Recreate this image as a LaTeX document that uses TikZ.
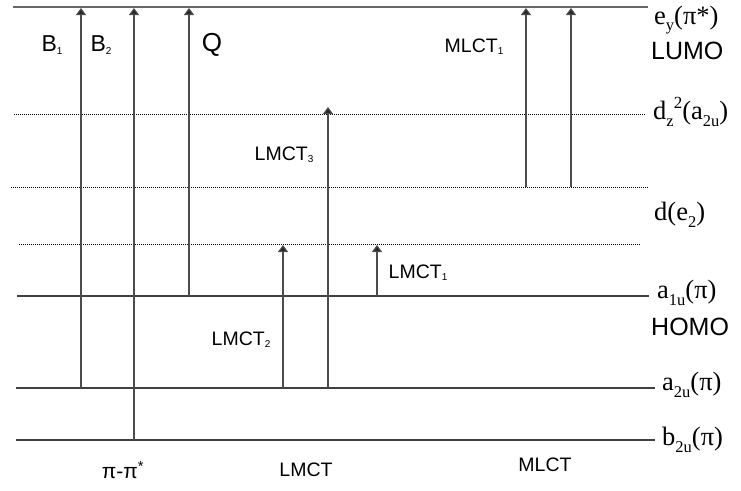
\documentclass[tikz,border=0pt]{standalone}
\usepackage{fontspec}
\setmainfont{Liberation Serif}
\newfontfamily\sans{Liberation Sans}
\usetikzlibrary{arrows.meta}
\newcommand\ssub[1]{\raisebox{-0.2ex}{\fontsize{10}{11}\selectfont #1}}
\newcommand\osub[1]{\raisebox{-0.55ex}{\fontsize{16.5}{17}\selectfont #1}}
\newcommand\osup[1]{\raisebox{0.9ex}{\fontsize{17}{18}\selectfont #1}}
\tikzset{
  solidlevel/.style={draw=black!75, line width=1.1pt},
  toplevel/.style={draw=black!60, line width=1.8pt},
  dotlevel/.style={draw=black, line width=0.8pt, dash pattern=on 1pt off 1pt},
  trans/.style={draw=black!70, line width=1.2pt, -{Triangle[length=7pt,width=10pt,fill=black!85]}},
  biglab/.style={font=\sans\fontsize{23}{26}\selectfont, inner sep=0pt},
  midlab/.style={font=\sans\fontsize{19.5}{22}\selectfont, inner sep=0pt},
  orblab/.style={font=\fontsize{26.5}{29}\selectfont, inner sep=0pt, anchor=west},
  homolab/.style={font=\sans\fontsize{25}{28}\selectfont, inner sep=0pt, anchor=west},
}
\begin{document}
\begin{tikzpicture}[x=1pt,y=-1pt]
\useasboundingbox (0,0) rectangle (741,490);
% level end points
\coordinate (eyL) at (13,7);   \coordinate (eyR) at (648,7);
\coordinate (dzL) at (14,114); \coordinate (dzR) at (645,114);
\coordinate (dmL) at (11,187); \coordinate (dmR) at (648,187);
\coordinate (deL) at (19,244); \coordinate (deR) at (641,244);
\coordinate (a1L) at (17,296); \coordinate (a1R) at (649,296);
\coordinate (a2L) at (16,388); \coordinate (a2R) at (655,388);
\coordinate (b2L) at (16,440); \coordinate (b2R) at (655,440);
% levels
\draw[toplevel] (eyL) -- (eyR);
\draw[dotlevel] (dzL) -- (dzR);
\draw[dotlevel] (dmL) -- (dmR);
\draw[dotlevel] (deL) -- (deR);
\draw[solidlevel] (a1L) -- (a1R);
\draw[solidlevel] (a2L) -- (a2R);
\draw[solidlevel] (b2L) -- (b2R);
% transition end points
\coordinate (B1s) at (81,388);  \coordinate (B1e) at (81,8);
\coordinate (B2s) at (134,440); \coordinate (B2e) at (134,8);
\coordinate (Qs) at (189,296);  \coordinate (Qe) at (189,8);
\coordinate (L2s) at (283,388); \coordinate (L2e) at (283,245);
\coordinate (L3s) at (328,388); \coordinate (L3e) at (328,107);
\coordinate (L1s) at (377,296); \coordinate (L1e) at (377,245);
\coordinate (M1s) at (526,187); \coordinate (M1e) at (526,8);
\coordinate (M2s) at (571,187); \coordinate (M2e) at (571,8);
% transitions
\draw[trans] (B1s) -- (B1e);
\draw[trans] (B2s) -- (B2e);
\draw[trans] (Qs) -- (Qe);
\draw[trans] (L2s) -- (L2e);
\draw[trans] (L3s) -- (L3e);
\draw[trans] (L1s) -- (L1e);
\draw[trans] (M1s) -- (M1e);
\draw[trans] (M2s) -- (M2e);
% transition labels
\node[biglab] (lB1) at (52,45) {B\ssub{1}};
\node[biglab] (lB2) at (101,45) {B\ssub{2}};
\node[biglab, font=\sans\fontsize{26}{28}\selectfont] (lQ) at (212,45) {Q};
\node[midlab] (lM1) at (474,47) {MLCT\ssub{1}};
\node[midlab] (lL3) at (284,155) {LMCT\ssub{3}};
\node[midlab] (lL1) at (418,273) {LMCT\ssub{1}};
\node[midlab] (lL2) at (241,340) {LMCT\ssub{2}};
% bottom labels
\node[midlab, font=\sans\fontsize{21}{24}\selectfont] (bpp) at (123,470) {π-π\textsuperscript{*}};
\node[midlab] (blm) at (306,470) {LMCT};
\node[midlab] (bml) at (545,465) {MLCT};
% orbital labels
\node[orblab] (oey) at (654,20) {e\osub{y}(π*)};
\node[homolab] (olumo) at (651,51) {LUMO};
\node[orblab] (odz) at (653,112) {d\osub{z}\osup{2}(a\osub{2u})};
\node[orblab] (ode) at (654,215) {d(e\osub{2})};
\node[orblab] (oa1) at (657,293) {a\osub{1u}(π)};
\node[homolab] (ohomo) at (651,327) {HOMO};
\node[orblab] (oa2) at (662,385) {a\osub{2u}(π)};
\node[orblab] (ob2) at (662,440) {b\osub{2u}(π)};
\end{tikzpicture}
\end{document}
